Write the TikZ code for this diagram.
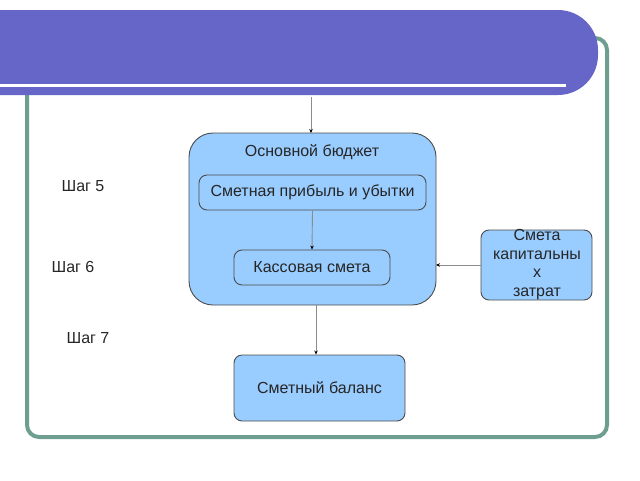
\documentclass[tikz,border=0pt]{standalone}
\usepackage{fontspec}
\setmainfont{Liberation Sans}
\usetikzlibrary{arrows.meta}
\definecolor{frameC}{HTML}{6E9E90}
\definecolor{barC}{HTML}{6666C8}
\definecolor{boxC}{HTML}{99CCFF}
\tikzset{
  box/.style={draw=black!70, line width=0.9pt, fill=boxC, rounded corners=#1},
  box/.default=8pt,
  conn/.style={draw=black!45, line width=0.9pt, -{Stealth[length=4pt,width=3.5pt,black]}},
  lbl/.style={font=\fontsize{16}{18}\selectfont, text=black!85},
}
\begin{document}
\begin{tikzpicture}[x=1pt,y=-1pt]
\useasboundingbox (0,0) rectangle (640,480);
% frame
\draw[frameC, line width=4pt, rounded corners=12pt] (27,38) rectangle (607,437);
% header bar
\fill[barC, rounded corners=40pt] (-50,10) rectangle (598,95);
\fill[white] (0,84) rectangle (566,87);
\coordinate (top) at (311,97);
% main box
\draw[box=24pt] (189,133) rectangle (436,305);
\node[lbl] (title) at (312,152) {Основной бюджет};
\coordinate (mainN) at (311,133);
\coordinate (mainE) at (436,265);
\coordinate (mainS) at (316,305);
\node[box, lbl, minimum width=227pt, minimum height=35pt, inner sep=0pt] (pl) at (312.5,192.5) {Сметная прибыль и убытки};
\node[box, lbl, minimum width=156pt, minimum height=35pt, inner sep=0pt] (cash) at (312,267.5) {Кассовая смета};
\node[box, minimum width=111pt, minimum height=70pt, inner sep=0pt] (cap) at (536.5,265) {};
\node[lbl, align=center, text width=120pt, font=\fontsize{16}{18.5}\selectfont] (captext) at (537,264.5) {Смета\\капитальны\\х\\затрат};
\node[box, lbl, minimum width=171pt, minimum height=66pt, inner sep=0pt] (bal) at (319.5,388) {Сметный баланс};
\node[lbl] (s5) at (83,186) {Шаг 5};
\node[lbl] (s6) at (73,267) {Шаг 6};
\node[lbl] (s7) at (88,338) {Шаг 7};
% connectors
\draw[conn] (top) -- (mainN);
\draw[conn] (pl.south) -- (cash.north);
\draw[conn] (cap.west) -- (mainE);
\draw[conn] (mainS) -- (mainS |- bal.north);
\end{tikzpicture}
\end{document}
